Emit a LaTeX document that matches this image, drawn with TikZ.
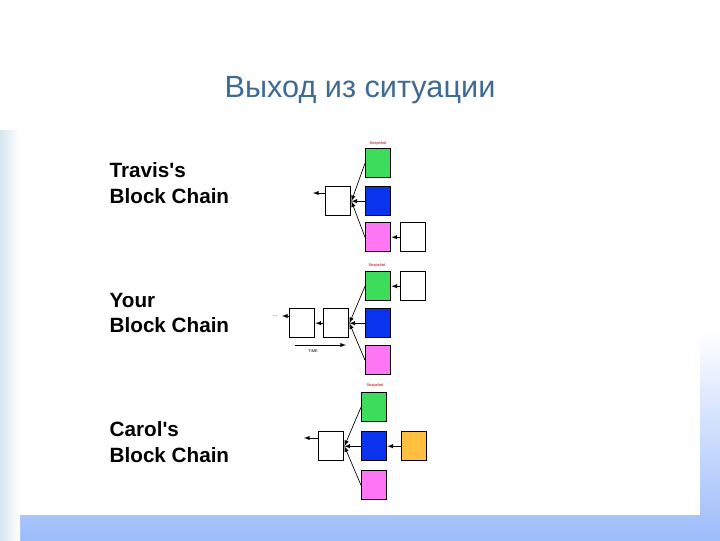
\documentclass[tikz,border=0pt]{standalone}
\usepackage{fontspec}
\setmainfont{Liberation Sans}
\definecolor{gB}{HTML}{3DDC5A}
\definecolor{bB}{HTML}{0A33EE}
\definecolor{pB}{HTML}{FF77F4}
\definecolor{oB}{HTML}{FFC040}
\definecolor{tC}{HTML}{3E6A96}
\definecolor{edge}{HTML}{D4E6EE}
\begin{document}
\begin{tikzpicture}[x=0.75pt,y=-0.75pt,
 blk/.style={draw=black,line width=0.8pt,minimum width=19pt,minimum height=22pt,inner sep=0pt,anchor=north west},
 lk/.style={-latex,line width=0.5pt},
 lab/.style={font=\bfseries\fontsize{15.5}{19}\selectfont,align=left,anchor=west},
 tag/.style={font=\fontsize{3}{3}\selectfont,text=red!70!black}]
\useasboundingbox (0,0) rectangle (720,540);
\fill[white] (0,0) rectangle (720,540);
\shade[top color=white,bottom color=edge!70!cyan!60!blue!60] (0,330) rectangle (720,540);
\shade[left color=edge,right color=white] (0,130) rectangle (20,540);
\fill[white] (20,130) rectangle (700,515);
\node[text=tC,font=\fontsize{23}{27}\selectfont] (title) at (360,90) {Выход из ситуации};
% Travis
\node[lab] (t) at (105,183) {Travis\textquotesingle s\\Block Chain};
\node[tag] (tt) at (378,143) {Snapshot};
\node[blk,fill=gB] (tg) at (365,148) {};
\node[blk,fill=bB] (tb) at (365,186) {};
\node[blk,fill=pB] (tp) at (365,222) {};
\node[blk] (tw) at (325,186) {};
\node[blk] (tr) at (400,222) {};
\coordinate (te) at (313,193);
\draw[lk] (tw.west|-te) -- (te);
\draw[lk] (tg.west) -- (tw.east);
\draw[lk] (tb.west) -- (tw.east);
\draw[lk] (tp.west) -- (tw.east);
\draw[lk] (tr.west) -- (tp.east);
% Your
\node[lab] (y) at (105,313) {Your\\Block Chain};
\node[tag] (yt) at (377,265) {Snapshot};
\node[blk,fill=gB] (yg) at (365,271) {};
\node[blk] (yr) at (400,271) {};
\node[blk,fill=bB] (yb) at (365,308) {};
\node[blk,fill=pB] (yp) at (365,345) {};
\node[blk] (yw) at (323,308) {};
\node[blk] (yw2) at (289,308) {};
\node[font=\fontsize{4}{4}\selectfont] (dots) at (275,316) {...};
\draw[lk] (yw2.west|-dots) -- (dots.east);
\draw[lk] (yw.west) -- (yw2.east);
\draw[lk] (yg.west) -- (yw.east);
\draw[lk] (yb.west) -- (yw.east);
\draw[lk] (yp.west) -- (yw.east);
\draw[lk] (yr.west) -- (yg.east);
\coordinate (ta) at (295,345); \coordinate (tb2) at (346,345);
\draw[lk] (ta) -- (tb2);
\node[font=\fontsize{3}{3}\selectfont] (time) at (313,351) {TIME};
% Carol
\node[lab] (c) at (105,442) {Carol\textquotesingle s\\Block Chain};
\node[tag] (ct) at (375,385) {Snapshot};
\node[blk,fill=gB] (cg) at (361,392) {};
\node[blk,fill=bB] (cb) at (361,431) {};
\node[blk,fill=oB] (co) at (401,431) {};
\node[blk,fill=pB] (cp) at (361,470) {};
\node[blk] (cw) at (318,431) {};
\coordinate (ce) at (304,438);
\draw[lk] (cw.west|-ce) -- (ce);
\draw[lk] (cg.west) -- (cw.east);
\draw[lk] (cb.west) -- (cw.east);
\draw[lk] (cp.west) -- (cw.east);
\draw[lk] (co.west) -- (cb.east);
\end{tikzpicture}
\end{document}
